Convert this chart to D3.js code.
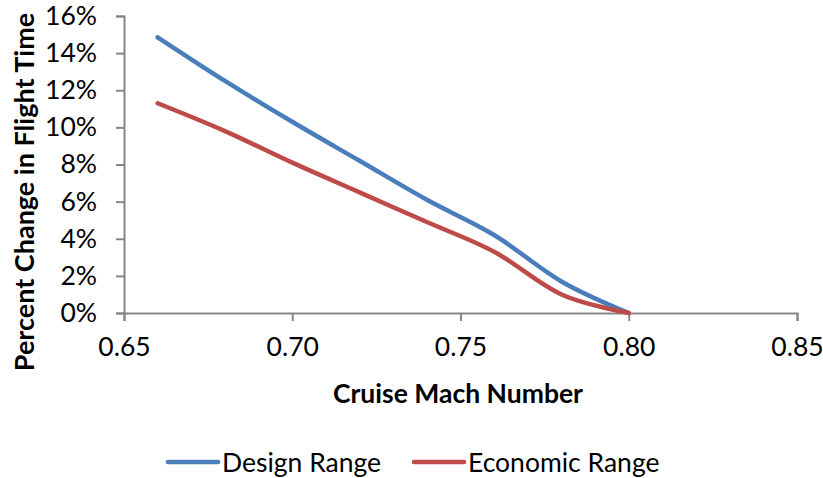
<!DOCTYPE html>
<html>
<head>
<meta charset="utf-8">
<script src="https://cdn.jsdelivr.net/npm/d3@7"></script>
<style>
  body { margin: 0; background: #fff; }
  text { font-family: Lato, "Open Sans", sans-serif; fill: #000; }
</style>
</head>
<body>
<div id="viz"></div>
<script>
var w = 823;
var h = 478;

// data
var mach = [0.66, 0.68, 0.70, 0.72, 0.74, 0.76, 0.78, 0.80];
var designRange = [0.1485, 0.125, 0.103, 0.082, 0.061, 0.042, 0.017, 0.0];
var economicRange = [0.113, 0.098, 0.081, 0.065, 0.049, 0.033, 0.010, 0.0];
var seriesNames = ["Design Range", "Economic Range"];
var seriesColors = ["#4a7ebb", "#be4b48"];
var xTicks = [0.65, 0.70, 0.75, 0.80, 0.85];
var yTicks = [0, 0.02, 0.04, 0.06, 0.08, 0.10, 0.12, 0.14, 0.16];

var svg = d3.select("#viz")
    .append("svg")
    .attr("width", w)
    .attr("height", h);

var x = d3.scaleLinear().domain([0.65, 0.85]).range([124, 797]);
var y = d3.scaleLinear().domain([0, 0.16]).range([313, 16]);

var axisColor = "#868686";

// y axis
var yAxis = svg.append("g")
    .attr("transform", "translate(124,0)")
    .call(d3.axisLeft(y).tickValues(yTicks).tickSize(8).tickPadding(19)
        .tickFormat(d3.format(".0%")));

// x axis
var xAxis = svg.append("g")
    .attr("transform", "translate(0,313)")
    .call(d3.axisBottom(x).tickValues(xTicks).tickSize(8).tickPadding(16)
        .tickFormat(d3.format(".2f")));

[yAxis, xAxis].forEach(function (g) {
    g.select(".domain").attr("stroke", axisColor).attr("stroke-width", 2);
    g.selectAll(".tick line").attr("stroke", axisColor).attr("stroke-width", 2);
    g.selectAll(".tick text")
        .attr("fill", "#000")
        .style("font-family", "Lato, 'Open Sans', sans-serif")
        .style("font-size", "26.5px");
});

// lines
var line = d3.line()
    .x(function (d) { return x(d[0]); })
    .y(function (d) { return y(d[1]); })
    .curve(d3.curveCardinal.tension(0));

var series = [designRange, economicRange];
series.forEach(function (vals, i) {
    var pts = mach.map(function (m, j) { return [m, vals[j]]; });
    svg.append("path")
        .datum(pts)
        .attr("fill", "none")
        .attr("stroke", seriesColors[i])
        .attr("stroke-width", 4.5)
        .attr("stroke-linecap", "round")
        .attr("stroke-linejoin", "round")
        .attr("d", line);
});

// axis titles
svg.append("text")
    .attr("x", 458)
    .attr("y", 403)
    .attr("text-anchor", "middle")
    .style("font-size", "26.5px")
    .style("font-weight", "bold")
    .text("Cruise Mach Number");

svg.append("text")
    .attr("transform", "translate(34,192) rotate(-90)")
    .attr("text-anchor", "middle")
    .style("font-size", "27px")
    .style("font-weight", "bold")
    .text("Percent Change in Flight Time");

// legend
var legendX = [168, 414];
seriesNames.forEach(function (name, i) {
    var g = svg.append("g").attr("transform", "translate(" + legendX[i] + ",462)");
    g.append("line")
        .attr("x1", 0).attr("x2", 50)
        .attr("stroke", seriesColors[i])
        .attr("stroke-width", 4.5)
        .attr("stroke-linecap", "round");
    g.append("text")
        .attr("x", 54)
        .attr("y", 10)
        .style("font-size", "26.5px")
        .text(name);
});
</script>
</body>
</html>
